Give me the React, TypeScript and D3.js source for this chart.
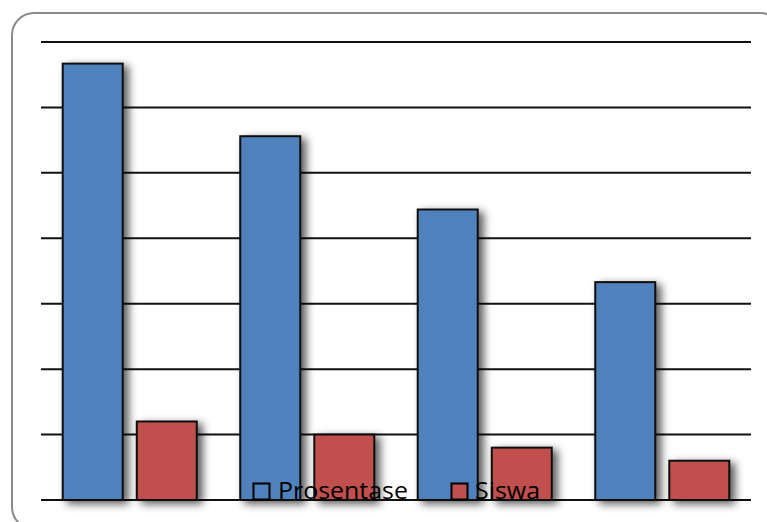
import React from "react";
import * as d3 from "d3";

const categories = ["A", "B", "C", "D"];
const seriesNames = ["Prosentase", "Siswa"];
const prosentase = [66.7, 55.6, 44.4, 33.3];
const siswa = [12, 10, 8, 6];
const gridTicks = [0, 10, 20, 30, 40, 50, 60, 70];

const W = 767;
const H = 522;
const colors = ["#4F81BD", "#C0504D"];

export default function App() {
  const x0 = d3.scaleBand<string>().domain(categories).range([41, 751]).paddingInner(0.245).paddingOuter(0.1225);
  const x1 = d3.scaleBand<string>().domain(seriesNames).range([0, x0.bandwidth()]).paddingInner(0.19);
  const y = d3.scaleLinear().domain([0, 70]).range([500, 42]);
  const values = [prosentase, siswa];

  return (
    <svg width={W} height={H} style={{ position: "absolute", left: 0, top: 0 }} fontFamily="'Open Sans', 'Liberation Sans', Arial, sans-serif">
      <defs>
        <filter id="barShadow" x="-30%" y="-20%" width="170%" height="160%">
          <feDropShadow dx="5" dy="3" stdDeviation="4" floodColor="#000" floodOpacity="0.65" />
        </filter>
      </defs>
      <rect x={0} y={0} width={W} height={H} fill="#fff" />
      <rect x={12} y={13} width={770} height={516} rx={22} ry={22} fill="#fff" stroke="#8a8a8a" strokeWidth={2} />
      {gridTicks.map((t) => (
        <line key={t} x1={41} x2={751} y1={y(t)} y2={y(t)} stroke="#111" strokeWidth={2} />
      ))}
      {categories.map((c, i) => (
        <g key={c} transform={`translate(${x0(c)},0)`}>
          {seriesNames.map((s, j) => (
            <rect
              key={s}
              x={x1(s)}
              y={y(values[j][i])}
              width={x1.bandwidth()}
              height={y(0) - y(values[j][i])}
              fill={colors[j]}
              stroke="#111"
              strokeWidth={2}
              filter="url(#barShadow)"
            />
          ))}
        </g>
      ))}
      <g>
        <rect x={253.5} y={483.5} width={16} height={16} fill={colors[0]} stroke="#000" strokeWidth={2} />
        <text x={278} y={499} fontSize={24} fill="#000" textLength={130} lengthAdjust="spacingAndGlyphs">{seriesNames[0]}</text>
        <rect x={451.5} y={483.5} width={16} height={16} fill={colors[1]} stroke="#000" strokeWidth={2} />
        <text x={475} y={499} fontSize={24} fill="#000" textLength={65} lengthAdjust="spacingAndGlyphs">{seriesNames[1]}</text>
      </g>
    </svg>
  );
}
